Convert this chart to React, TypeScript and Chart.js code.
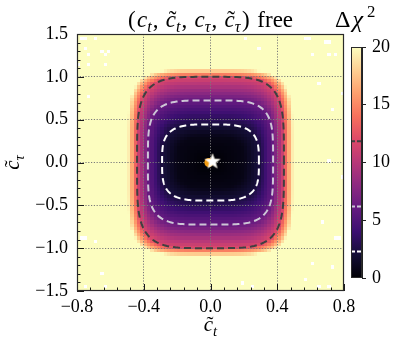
import React, { useEffect, useRef } from "react";
import { Chart, registerables } from "chart.js";
Chart.register(...registerables);

const FONT = '"Liberation Serif", "DejaVu Serif", serif';

// axes
const X_MIN = -0.8, X_MAX = 0.8;
const Y_MIN = -1.5, Y_MAX = 1.5;
const X_STEP = 0.4;
const Y_STEP = 0.5;
const CB_MIN = 0, CB_MAX = 20, CB_STEP = 5;
const GRID_NX = 80;
const GRID_NY = 80;

// Δχ² level sets: half-width in c̃_t, half-height in c̃_τ,
// and squareness (superellipse exponent) of each iso-Δχ² curve
const LEVELS = [0, 0.7, 2.3, 6.18, 11.83, 18, 20, 30];
const HALF_CT = [0, 0.2, 0.29, 0.375, 0.44, 0.48, 0.495, 0.53];
const HALF_CTAU = [0, 0.3, 0.445, 0.725, 1.0, 1.07, 1.085, 1.12];
const SQUARENESS = [3, 3.2, 3.5, 4.2, 4.3, 5, 5, 5];

// contour levels (1σ, 2σ, 3σ for 2 d.o.f.)
const CONTOUR_LEVELS = [2.3, 6.18, 11.83];
const CONTOUR_COLORS = ["#ffffff", "#cdc6d6", "#404040"];

// missing (white) grid cells
const BLANK_X = [-0.77, -0.75, -0.69, -0.75, -0.74, -0.66, -0.62, -0.64, -0.64, -0.79, -0.73, -0.74,
  0.57, 0.59, 0.69, 0.71, 0.6, 0.71, 0.75, 0.2, 0.28, 0.64, 0.72, 0.78, 0.7, 0.78, 0.67, 0.76, 0.74,
  0.61, 0.72, 0.56, 0.64, 0.7, 0.24, 0.18, -0.77, -0.75, -0.7, -0.65, -0.75, -0.64];
const BLANK_Y = [1.46, 1.46, 1.45, 1.33, 1.26, 1.28, 1.28, 1.24, 1.15, 1.15, 1.14, 0.78,
  1.46, 1.46, 1.39, 1.39, 1.25, 1.25, 1.25, 1.46, 1.33, 0.92, 0.63, 0.8, 0.0, -0.17, -0.7, -0.87, -0.9,
  -1.17, -1.23, -1.35, -1.44, -1.45, -1.45, -1.4, -0.88, -0.88, -0.93, -1.31, -1.43, -1.43];

const BEST_FIT = [{ x: 0.012, y: 0.01 }];
const SM_POINT = [{ x: -0.01, y: 0.0 }];

const MAGMA = [
  [0, 0, 4], [20, 14, 54], [59, 15, 112], [100, 26, 128], [140, 41, 129], [183, 55, 121],
  [222, 73, 104], [247, 112, 92], [254, 159, 109], [254, 207, 146], [252, 253, 191],
];

function magma(t: number): string {
  const tt = Math.max(0, Math.min(1, t)) * (MAGMA.length - 1);
  const i = Math.min(MAGMA.length - 2, Math.floor(tt));
  const f = tt - i;
  const a = MAGMA[i], b = MAGMA[i + 1];
  const c = a.map((v, k) => Math.round(v + (b[k] - v) * f));
  return `rgb(${c[0]},${c[1]},${c[2]})`;
}

function lerpTable(xs: number[], ys: number[], v: number): number {
  const n = xs.length;
  if (v <= xs[0]) return ys[0];
  if (v >= xs[n - 1]) return ys[n - 1];
  for (let i = 0; i < n - 1; i++) {
    if (v <= xs[i + 1]) {
      const f = (v - xs[i]) / (xs[i + 1] - xs[i]);
      return ys[i] + f * (ys[i + 1] - ys[i]);
    }
  }
  return ys[n - 1];
}

function shapeSum(x: number, y: number, L: number): number {
  const a = Math.max(1e-6, lerpTable(LEVELS, HALF_CT, L));
  const b = Math.max(1e-6, lerpTable(LEVELS, HALF_CTAU, L));
  const n = lerpTable(LEVELS, SQUARENESS, L);
  return Math.pow(Math.abs(x) / a, n) + Math.pow(Math.abs(y) / b, n);
}

function deltaChi2(x: number, y: number): number {
  const Lmax = LEVELS[LEVELS.length - 1];
  if (shapeSum(x, y, Lmax) > 1) return Lmax;
  let lo = 0, hi = Lmax;
  for (let it = 0; it < 30; it++) {
    const m = (lo + hi) / 2;
    if (shapeSum(x, y, m) > 1) lo = m; else hi = m;
  }
  return (lo + hi) / 2;
}

function contourPoints(level: number) {
  const pts: { x: number; y: number }[] = [];
  const N = 360;
  for (let k = 0; k <= N; k++) {
    const th = (k / N) * Math.PI * 2;
    const c = Math.cos(th), s = Math.sin(th);
    let lo = 0, hi = 2;
    for (let it = 0; it < 30; it++) {
      const m = (lo + hi) / 2;
      if (deltaChi2(m * c, m * s) < level) lo = m; else hi = m;
    }
    const r = (lo + hi) / 2;
    pts.push({ x: r * c, y: r * s });
  }
  return pts;
}

type Run = { t: string; it?: boolean; sub?: boolean; sup?: boolean; tilde?: boolean; gap?: number };

function runFont(r: Run, size: number) {
  const s = r.sub || r.sup ? size * 0.7 : size;
  return `${r.it ? "italic " : ""}${s}px ${FONT}`;
}
function measureRuns(ctx: CanvasRenderingContext2D, runs: Run[], size: number) {
  let w = 0;
  for (const r of runs) {
    ctx.font = runFont(r, size);
    w += ctx.measureText(r.t).width + (r.gap || 0);
  }
  return w;
}
function drawRuns(ctx: CanvasRenderingContext2D, runs: Run[], x: number, y: number, size: number) {
  let cx = x;
  ctx.textAlign = "left";
  ctx.textBaseline = "alphabetic";
  for (const r of runs) {
    ctx.font = runFont(r, size);
    const w = ctx.measureText(r.t).width;
    let by = y;
    if (r.sub) by = y + size * 0.22;
    if (r.sup) by = y - size * 0.42;
    ctx.fillText(r.t, cx, by);
    if (r.tilde) {
      ctx.font = `${size}px ${FONT}`;
      const tw = ctx.measureText("\u02DC").width;
      ctx.fillText("\u02DC", cx + w / 2 - tw / 2 + size * 0.07, by);
    }
    cx += w + (r.gap || 0);
  }
}

const TITLE_RUNS: Run[] = [
  { t: "(", gap: 1.5 }, { t: "c", it: true }, { t: "t", it: true, sub: true, gap: 1 }, { t: ", ", gap: 1.5 },
  { t: "c", it: true, tilde: true }, { t: "t", it: true, sub: true, gap: 1 }, { t: ", ", gap: 1.5 },
  { t: "c", it: true }, { t: "τ", it: true, sub: true, gap: 1 }, { t: ", ", gap: 1.5 },
  { t: "c", it: true, tilde: true }, { t: "τ", it: true, sub: true, gap: 1.5 }, { t: ")", gap: 2 }, { t: " free" },
];
const XLABEL_RUNS: Run[] = [{ t: "c", it: true, tilde: true }, { t: "t", it: true, sub: true }];
const YLABEL_RUNS: Run[] = [{ t: "c", it: true, tilde: true }, { t: "τ", it: true, sub: true }];
const CBLABEL_RUNS: Run[] = [{ t: "Δ", gap: 2 }, { t: "χ", it: true, gap: 4 }, { t: "2", sup: true }];

function fmt(v: any) {
  const n = Number(v);
  const s = Math.abs(n).toFixed(1);
  return (n < -1e-9 ? "\u2212" : "") + s;
}

function makeStar(): HTMLCanvasElement {
  const c = document.createElement("canvas");
  c.width = 18; c.height = 18;
  const g = c.getContext("2d")!;
  g.beginPath();
  for (let k = 0; k < 10; k++) {
    const r = k % 2 === 0 ? 7.8 : 3.3;
    const a = -Math.PI / 2 + (k * Math.PI) / 5;
    const px = 9 + r * Math.cos(a), py = 9 + r * Math.sin(a);
    if (k === 0) g.moveTo(px, py); else g.lineTo(px, py);
  }
  g.closePath();
  g.fillStyle = "#ffffff";
  g.fill();
  g.strokeStyle = "#f6eedc";
  g.lineWidth = 0.6;
  g.stroke();
  return c;
}

const heatmapPlugin = {
  id: "heatmap",
  beforeDraw(chart: any) {
    const { ctx, chartArea, scales } = chart;
    const xs = scales.x, ys = scales.y;
    const dx = (X_MAX - X_MIN) / GRID_NX, dy = (Y_MAX - Y_MIN) / GRID_NY;
    const blank = new Set<string>();
    for (let k = 0; k < BLANK_X.length; k++) {
      const i = Math.floor((BLANK_X[k] - X_MIN) / dx);
      const j = Math.floor((BLANK_Y[k] - Y_MIN) / dy);
      blank.add(i + "," + j);
    }
    ctx.save();
    ctx.beginPath();
    ctx.rect(chartArea.left, chartArea.top, chartArea.right - chartArea.left, chartArea.bottom - chartArea.top);
    ctx.clip();
    for (let i = 0; i < GRID_NX; i++) {
      const x0 = X_MIN + i * dx;
      const px0 = Math.round(xs.getPixelForValue(x0));
      const px1 = Math.round(xs.getPixelForValue(x0 + dx));
      for (let j = 0; j < GRID_NY; j++) {
        if (blank.has(i + "," + j)) continue;
        const y0 = Y_MIN + j * dy;
        const py0 = Math.round(ys.getPixelForValue(y0));
        const py1 = Math.round(ys.getPixelForValue(y0 + dy));
        const v = deltaChi2(x0 + dx / 2, y0 + dy / 2);
        ctx.fillStyle = magma((Math.min(v, CB_MAX) - CB_MIN) / (CB_MAX - CB_MIN));
        ctx.fillRect(px0, py1, px1 - px0, py0 - py1);
      }
    }
    ctx.restore();
  },
  afterDraw(chart: any) {
    const { ctx, chartArea, scales } = chart;
    const xs = scales.x, ys = scales.y;
    const { left, right, top, bottom } = chartArea;
    ctx.save();
    // inward ticks
    ctx.strokeStyle = "#1a1a1a";
    ctx.lineWidth = 1;
    ctx.beginPath();
    for (let k = -15; k <= 15; k++) {
      const py = Math.round(ys.getPixelForValue(k / 10)) + 0.5;
      const len = k % 5 === 0 ? 7 : 3.5;
      ctx.moveTo(left, py);
      ctx.lineTo(left + len, py);
    }
    for (let k = -10; k <= 10; k++) {
      const px = Math.round(xs.getPixelForValue(k * 0.08)) + 0.5;
      const len = k % 5 === 0 ? 7 : 3.5;
      ctx.moveTo(px, bottom);
      ctx.lineTo(px, bottom - len);
    }
    ctx.stroke();
    // frame
    ctx.strokeStyle = "#2a2a2a";
    ctx.lineWidth = 1.2;
    ctx.strokeRect(left + 0.5, top + 0.5, right - left - 1, bottom - top - 1);
    // texts
    ctx.fillStyle = "#000";
    const cxm = (left + right) / 2;
    const tw = measureRuns(ctx, TITLE_RUNS, 23);
    drawRuns(ctx, TITLE_RUNS, cxm - tw / 2, 27, 23);
    const xw = measureRuns(ctx, XLABEL_RUNS, 21);
    drawRuns(ctx, XLABEL_RUNS, cxm - xw / 2, 331, 21);
    const yw = measureRuns(ctx, YLABEL_RUNS, 21);
    ctx.save();
    ctx.translate(19, (top + bottom) / 2);
    ctx.rotate(-Math.PI / 2);
    drawRuns(ctx, YLABEL_RUNS, -yw / 2, 0, 21);
    ctx.restore();
    drawRuns(ctx, CBLABEL_RUNS, 335, 27, 24);
    ctx.restore();
  },
};

const colorbarPlugin = {
  id: "cbextra",
  afterDatasetsDraw(chart: any) {
    const { ctx, chartArea, scales } = chart;
    const { left, right, top, bottom } = chartArea;
    ctx.save();
    CONTOUR_LEVELS.forEach((lv, k) => {
      const py = scales.y.getPixelForValue(lv);
      ctx.strokeStyle = CONTOUR_COLORS[k];
      ctx.lineWidth = 2;
      ctx.setLineDash([4, 2]);
      ctx.beginPath();
      ctx.moveTo(left, py);
      ctx.lineTo(right, py);
      ctx.stroke();
    });
    ctx.setLineDash([]);
    ctx.strokeStyle = "#2a2a2a";
    ctx.lineWidth = 1;
    ctx.strokeRect(left + 0.5, top + 0.5, right - left - 1, bottom - top - 1);
    ctx.restore();
  },
};

export default function App() {
  const mainRef = useRef<HTMLCanvasElement>(null);
  const cbRef = useRef<HTMLCanvasElement>(null);

  useEffect(() => {
    const gridColor = (min: number, max: number) => (c: any) =>
      c.tick && (Math.abs(c.tick.value - min) < 1e-6 || Math.abs(c.tick.value - max) < 1e-6)
        ? "rgba(0,0,0,0)"
        : "#7a7a7a";
    const star = makeStar();
    const contourSets = CONTOUR_LEVELS.map((lv, k) => ({
      type: "line" as const,
      data: contourPoints(lv),
      showLine: true,
      borderColor: CONTOUR_COLORS[k],
      borderWidth: 2,
      borderDash: [7, 4],
      pointRadius: 0,
      fill: false,
      tension: 0,
    }));
    const main = new Chart(mainRef.current!, {
      type: "scatter",
      data: {
        datasets: [
          { data: BEST_FIT, pointStyle: star as any, pointRadius: 9, backgroundColor: "#fff", borderWidth: 0 },
          { data: SM_POINT, pointStyle: "circle", pointRadius: 4.5, backgroundColor: "#f39c12", borderWidth: 0 },
          ...(contourSets as any[]),
        ],
      },
      options: {
        responsive: false,
        animation: false,
        devicePixelRatio: 1,
        layout: { padding: { left: 0, top: 34, right: 56, bottom: 0 } },
        plugins: { legend: { display: false }, tooltip: { enabled: false }, title: { display: false } },
        scales: {
          x: {
            type: "linear",
            min: X_MIN,
            max: X_MAX,
            afterFit: (s: any) => { s.height = 55; },
            ticks: { stepSize: X_STEP, autoSkip: false, maxRotation: 0, font: { family: FONT, size: 18 }, color: "#000", padding: 5, callback: fmt },
            grid: { drawTicks: false, color: gridColor(X_MIN, X_MAX), lineWidth: 1 },
            border: { display: false, dash: [1.2, 1.6] },
          },
          y: {
            type: "linear",
            min: Y_MIN,
            max: Y_MAX,
            afterFit: (s: any) => { s.width = 77; },
            ticks: { stepSize: Y_STEP, autoSkip: false, font: { family: FONT, size: 18 }, color: "#000", padding: 9, callback: fmt },
            grid: { drawTicks: false, color: gridColor(Y_MIN, Y_MAX), lineWidth: 1 },
            border: { display: false, dash: [1.2, 1.6] },
          },
        },
      } as any,
      plugins: [heatmapPlugin],
    });

    const cb = new Chart(cbRef.current!, {
      type: "bar",
      data: {
        labels: [""],
        datasets: [
          {
            data: [[CB_MIN, CB_MAX]] as any,
            barPercentage: 1,
            categoryPercentage: 1,
            borderWidth: 0,
            backgroundColor: (c: any) => {
              const ch = c.chart;
              if (!ch.chartArea) return "#000";
              const ys = ch.scales.y;
              const g = ch.ctx.createLinearGradient(0, ys.getPixelForValue(CB_MIN), 0, ys.getPixelForValue(CB_MAX));
              for (let k = 0; k < MAGMA.length; k++) {
                g.addColorStop(k / (MAGMA.length - 1), magma(k / (MAGMA.length - 1)));
              }
              return g;
            },
          },
        ],
      },
      options: {
        responsive: false,
        animation: false,
        devicePixelRatio: 1,
        layout: { padding: { left: 11, top: 47, right: 0, bottom: 68 } },
        plugins: { legend: { display: false }, tooltip: { enabled: false } },
        scales: {
          x: { display: false },
          y: {
            position: "right",
            min: CB_MIN,
            max: CB_MAX,
            afterFit: (s: any) => { s.width = 38; },
            ticks: { stepSize: CB_STEP, font: { family: FONT, size: 18 }, color: "#000", padding: 6 },
            grid: { drawOnChartArea: false, drawTicks: true, tickLength: 4, tickColor: "#222", tickWidth: 1 },
            border: { display: true, color: "#222", width: 1 },
          },
        },
      } as any,
      plugins: [colorbarPlugin],
    });

    return () => {
      main.destroy();
      cb.destroy();
    };
  }, []);

  return (
    <div style={{ position: "fixed", left: 0, top: 0, width: 400, height: 346, background: "#fff" }}>
      <canvas ref={mainRef} width={400} height={346} style={{ position: "absolute", left: 0, top: 0, width: 400, height: 346 }} />
      <canvas ref={cbRef} width={60} height={346} style={{ position: "absolute", left: 340, top: 0, width: 60, height: 346 }} />
    </div>
  );
}
